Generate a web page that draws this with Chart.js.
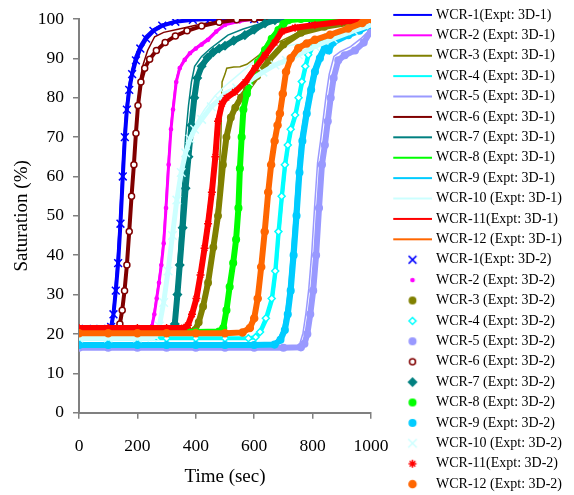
<!DOCTYPE html>
<html>
<head>
<meta charset="utf-8">
<script src="https://cdn.jsdelivr.net/npm/chart.js@4/dist/chart.umd.min.js"></script>
<style>
  html, body { margin: 0; padding: 0; background: #fff; }
  #wrap { width: 574px; height: 495px; }
</style>
</head>
<body>
<div id="wrap"><canvas id="satChart" width="574" height="495"></canvas></div>
<script>
// ---- data (time in sec, saturation in %) ----
const wcr1Expt1Time = [0, 50, 100, 108, 116, 124, 132, 140, 148, 155, 162, 170, 180, 192, 207, 227, 252, 282, 325, 385, 440, 600, 800, 1000];
const wcr1Expt1Sat  = [21.2, 21.2, 21.2, 22, 25.5, 32, 40, 50, 62, 71, 78, 83, 87, 90.5, 93.2, 95.6, 97.4, 98.6, 99.4, 99.9, 100, 100, 100, 100];
const wcr2Expt1Time = [0, 100, 200, 238, 248, 256, 264, 272, 280, 288, 296, 305, 313, 320, 331, 343, 360, 378, 398, 418, 440, 468, 498, 548, 600, 800, 1000];
const wcr2Expt1Sat  = [21.1, 21.1, 21.1, 21.2, 22, 25, 29, 33, 37.5, 43, 52, 63, 72, 77, 84, 87.6, 89.8, 91.5, 92.7, 93.8, 95, 97, 98.6, 99.5, 100, 100, 100];
const wcr3Expt1Time = [0, 100, 200, 300, 390, 405, 420, 440, 460, 476, 486, 490, 500, 506, 530, 551, 575, 620, 680, 750, 850, 1000];
const wcr3Expt1Sat  = [20.3, 20.3, 20.3, 20.3, 20.4, 22, 27, 35, 44, 55, 70, 84, 86, 87.5, 87.8, 87.9, 88.5, 91, 94, 96.5, 98.5, 100];
const wcr4Expt1Time = [0, 100, 200, 300, 400, 500, 585, 610, 625, 645, 665, 677, 688, 699, 710, 720, 730, 745, 757, 768, 780, 790, 812, 845, 885, 935, 1000];
const wcr4Expt1Sat  = [18.7, 18.7, 18.7, 18.7, 18.7, 18.7, 18.7, 19, 20.3, 23.5, 28.5, 35.5, 45.5, 54.5, 62.5, 67.5, 71.5, 75.2, 79.5, 83.6, 87.6, 90.5, 93.9, 95, 96, 96.8, 97.8];
const wcr5Expt1Time = [0, 100, 200, 300, 400, 500, 600, 700, 745, 757, 767, 777, 787, 797, 807, 817, 827, 837, 847, 857, 873, 895, 930, 965, 1000];
const wcr5Expt1Sat  = [16.7, 16.7, 16.7, 16.7, 16.7, 16.7, 16.7, 16.7, 16.8, 17.7, 20.2, 25.2, 31.5, 40.5, 52.5, 63.5, 69, 75, 81, 86, 90.5, 91.7, 93, 95, 97.5];
const wcr6Expt1Time = [0, 50, 100, 130, 140, 148, 156, 164, 172, 180, 188, 195, 202, 210, 220, 235, 259, 290, 339, 400, 460, 520, 600, 800, 1000];
const wcr6Expt1Sat  = [21.2, 21.2, 21.2, 21.3, 22.5, 26, 31, 38, 47, 56, 64, 72, 79, 85, 88.5, 92, 95.5, 96.6, 97.4, 98.4, 99.3, 99.9, 100, 100, 100];
const wcr7Expt1Time = [0, 100, 200, 300, 315, 325, 335, 345, 355, 365, 375, 385, 396, 420, 450, 480, 510, 560, 620, 680, 800, 1000];
const wcr7Expt1Sat  = [20.7, 20.7, 20.7, 20.8, 21, 24, 33, 45, 58, 70, 78, 84, 88, 90.5, 92.5, 94.2, 95.9, 97.4, 98.8, 100, 100, 100];
const wcr8Expt1Time = [0, 100, 200, 300, 400, 476, 490, 501, 512, 524, 534, 542, 547, 553, 559, 571, 587, 609, 633, 656, 679, 696, 713, 755, 1000];
const wcr8Expt1Sat  = [20.4, 20.4, 20.4, 20.4, 20.4, 20.5, 21.5, 26, 32, 38, 44, 52, 62, 70, 77, 81.5, 85.8, 89.5, 92.6, 95.4, 97.5, 98.9, 99.8, 100, 100];
const wcr9Expt1Time = [0, 100, 200, 300, 400, 500, 600, 662, 682, 697, 707, 717, 727, 737, 747, 757, 772, 787, 800, 817, 834, 850, 865, 918, 958, 1000];
const wcr9Expt1Sat  = [17.4, 17.4, 17.4, 17.4, 17.4, 17.4, 17.4, 17.5, 18.7, 21.2, 25.3, 31.5, 40.5, 50.5, 61.5, 69.5, 76.5, 82.5, 87, 90.5, 93, 93.3, 94.5, 96.3, 97.3, 98.7];
const wcr10Expt1Time = [0, 100, 200, 250, 262, 275, 290, 305, 320, 335, 350, 365, 380, 400, 430, 466, 500, 540, 580, 637, 700, 760, 808, 850, 900, 950, 1000];
const wcr10Expt1Sat  = [18.8, 18.8, 18.8, 18.9, 19.2, 22.5, 29, 37, 46, 55, 62, 67, 70.5, 73.5, 77, 80.5, 83, 85.5, 88, 91.7, 93, 93.8, 94.5, 93.5, 95.5, 97.5, 99];
const wcr11Expt1Time = [0, 100, 200, 300, 355, 368, 382, 397, 411, 425, 437, 450, 462, 471, 485, 500, 530, 566, 600, 634, 667, 691, 738, 806, 898, 1000];
const wcr11Expt1Sat  = [21.4, 21.4, 21.4, 21.4, 21.5, 22.2, 25, 29, 35, 42, 48.5, 56.5, 65.5, 74.5, 79, 80.5, 82, 84.5, 88, 91.2, 94.3, 97, 98, 98.7, 99.4, 100];
const wcr12Expt1Time = [0, 100, 200, 300, 400, 500, 556, 581, 596, 608, 620, 632, 644, 654, 666, 676, 684, 694, 705, 721, 747, 776, 804, 856, 918, 966, 1000];
const wcr12Expt1Sat  = [20.1, 20.1, 20.1, 20.1, 20.1, 20.1, 20.3, 21.5, 24, 29, 37, 46, 56, 63, 69, 73, 76.5, 81.5, 87, 90.4, 93, 94.2, 95, 96.3, 97.8, 99.1, 100];

const wcr1Expt2Time = [0, 50, 100, 110, 118, 126, 134, 142, 150, 157, 164, 172, 182, 195, 210, 230, 255, 285, 330, 390, 450, 600, 800, 1000];
const wcr1Expt2Sat  = [21.3, 21.3, 21.3, 21.8, 25, 31, 38, 48, 60, 70, 77, 82, 86, 89.5, 92.5, 95, 97, 98.3, 99.3, 99.8, 100, 100, 100, 100];
const wcr2Expt2Time = [0, 100, 200, 240, 250, 258, 266, 274, 282, 290, 298, 307, 315, 322, 333, 345, 362, 380, 400, 420, 442, 470, 500, 550, 600, 800, 1000];
const wcr2Expt2Sat  = [21.2, 21.2, 21.2, 21.3, 22, 25, 29, 33, 37.5, 43, 52, 63, 72, 77, 84, 87.5, 89.6, 91.3, 92.5, 93.5, 94.7, 96.8, 98.5, 99.4, 100, 100, 100];
const wcr3Expt2Time = [0, 100, 200, 300, 380, 398, 410, 425, 442, 460, 476, 493, 505, 520, 535, 555, 575, 610, 650, 700, 760, 840, 920, 1000];
const wcr3Expt2Sat  = [20.5, 20.5, 20.5, 20.5, 20.6, 21, 23, 27, 33, 42, 50, 63, 70, 75, 77.5, 80, 82, 85.5, 89.5, 93.5, 96.5, 98, 99, 99.7];
const wcr4Expt2Time = [0, 100, 200, 300, 400, 500, 580, 605, 620, 640, 660, 672, 683, 694, 705, 715, 725, 740, 752, 763, 775, 785, 808, 840, 880, 930, 1000];
const wcr4Expt2Sat  = [18.9, 18.9, 18.9, 18.9, 18.9, 18.9, 18.9, 19.2, 20.5, 24, 29, 36, 46, 55, 63, 68, 72, 75.6, 80, 84.1, 88, 90.9, 94.2, 95.2, 96.2, 97, 98];
const wcr5Expt2Time = [0, 100, 200, 300, 400, 500, 600, 700, 760, 772, 782, 792, 802, 812, 822, 832, 842, 852, 862, 872, 888, 910, 945, 975, 1000];
const wcr5Expt2Sat  = [16.5, 16.5, 16.5, 16.5, 16.5, 16.5, 16.5, 16.5, 16.6, 17.5, 20, 25, 31, 40, 52, 63, 68, 74, 80, 85, 89.5, 90.8, 92, 94, 97];
const wcr6Expt2Time = [0, 50, 100, 130, 140, 148, 156, 164, 172, 180, 188, 195, 202, 212, 225, 242, 265, 295, 330, 370, 420, 480, 540, 600, 800, 1000];
const wcr6Expt2Sat  = [21.3, 21.3, 21.3, 21.4, 22.5, 26, 31, 37.5, 46, 55, 63, 71, 78, 84, 87.5, 89.8, 92, 94, 95.7, 97, 98.2, 99.2, 99.8, 100, 100, 100];
const wcr7Expt2Time = [0, 100, 200, 300, 318, 328, 337, 345, 355, 365, 375, 385, 395, 405, 420, 440, 460, 480, 500, 530, 568, 600, 637, 671, 700, 800, 1000];
const wcr7Expt2Sat  = [20.8, 20.8, 20.8, 20.9, 21, 22.5, 30, 37.5, 47, 57, 65, 73, 80, 85, 88, 90.2, 91.6, 92.5, 93.2, 94.5, 95.9, 97.3, 98.9, 99.7, 100, 100, 100];
const wcr8Expt2Time = [0, 100, 200, 300, 400, 480, 494, 505, 516, 528, 538, 546, 551, 557, 563, 575, 591, 613, 637, 660, 683, 700, 717, 760, 1000];
const wcr8Expt2Sat  = [20.5, 20.5, 20.5, 20.5, 20.5, 20.6, 21.5, 26, 32, 38, 44, 52, 62, 70, 77, 81, 85.3, 89, 92.1, 95, 97.2, 98.7, 99.7, 100, 100];
const wcr9Expt2Time = [0, 100, 200, 300, 400, 500, 600, 670, 690, 705, 715, 725, 735, 745, 755, 765, 780, 795, 808, 825, 842, 855, 870, 922, 960, 1000];
const wcr9Expt2Sat  = [17.2, 17.2, 17.2, 17.2, 17.2, 17.2, 17.2, 17.3, 18.5, 21, 25, 31, 40, 50, 61, 69, 76, 82, 86.6, 90, 92.6, 92, 94, 95.9, 97, 98.5];
const wcr10Expt2Time = [0, 100, 200, 250, 262, 275, 290, 305, 320, 335, 350, 365, 380, 396, 420, 453, 480, 499, 540, 580, 630, 671, 710, 751, 808, 870, 940, 1000];
const wcr10Expt2Sat  = [19, 19, 19, 19.1, 19.3, 22, 28, 36, 45, 54, 61, 66, 69.5, 72, 74.5, 77.7, 79.5, 81, 82.5, 84.1, 86.5, 88.3, 89.5, 90.9, 93, 95, 97, 98.5];
const wcr11Expt2Time = [0, 100, 200, 300, 360, 373, 387, 402, 416, 430, 442, 455, 467, 476, 490, 505, 534, 570, 603, 637, 670, 694, 740, 808, 900, 1000];
const wcr11Expt2Sat  = [21.5, 21.5, 21.5, 21.5, 21.6, 22.2, 25, 29, 35, 41.8, 48, 56, 65, 74, 78.5, 80, 81.5, 84, 87.5, 90.8, 94, 96.8, 97.8, 98.5, 99.3, 100];
const wcr12Expt2Time = [0, 100, 200, 300, 400, 500, 560, 585, 600, 612, 624, 636, 648, 658, 670, 680, 688, 698, 709, 725, 751, 780, 808, 860, 922, 970, 1000];
const wcr12Expt2Sat  = [20.2, 20.2, 20.2, 20.2, 20.2, 20.2, 20.4, 21.5, 24, 29, 37, 46, 56, 63, 69, 73, 76, 81, 86.6, 90, 92.6, 93.8, 94.7, 96, 97.6, 99, 100];

const expt1Names = ["WCR-1(Expt: 3D-1)", "WCR-2 (Expt: 3D-1)", "WCR-3 (Expt: 3D-1)", "WCR-4 (Expt: 3D-1)",
    "WCR-5 (Expt: 3D-1)", "WCR-6 (Expt: 3D-1)", "WCR-7 (Expt: 3D-1)", "WCR-8 (Expt: 3D-1)",
    "WCR-9 (Expt: 3D-1)", "WCR-10 (Expt: 3D-1)", "WCR-11(Expt: 3D-1)", "WCR-12 (Expt: 3D-1)"];
const expt2Names = ["WCR-1(Expt: 3D-2)", "WCR-2 (Expt: 3D-2)", "WCR-3 (Expt: 3D-2)", "WCR-4 (Expt: 3D-2)",
    "WCR-5 (Expt: 3D-2)", "WCR-6 (Expt: 3D-2)", "WCR-7 (Expt: 3D-2)", "WCR-8 (Expt: 3D-2)",
    "WCR-9 (Expt: 3D-2)", "WCR-10 (Expt: 3D-2)", "WCR-11(Expt: 3D-2)", "WCR-12 (Expt: 3D-2)"];
const xTicks = [0, 200, 400, 600, 800, 1000];
const yTicks = [0, 10, 20, 30, 40, 50, 60, 70, 80, 90, 100];

const expt1Times = [wcr1Expt1Time, wcr2Expt1Time, wcr3Expt1Time, wcr4Expt1Time, wcr5Expt1Time, wcr6Expt1Time,
    wcr7Expt1Time, wcr8Expt1Time, wcr9Expt1Time, wcr10Expt1Time, wcr11Expt1Time, wcr12Expt1Time];
const expt1Sats = [wcr1Expt1Sat, wcr2Expt1Sat, wcr3Expt1Sat, wcr4Expt1Sat, wcr5Expt1Sat, wcr6Expt1Sat,
    wcr7Expt1Sat, wcr8Expt1Sat, wcr9Expt1Sat, wcr10Expt1Sat, wcr11Expt1Sat, wcr12Expt1Sat];
const expt2Times = [wcr1Expt2Time, wcr2Expt2Time, wcr3Expt2Time, wcr4Expt2Time, wcr5Expt2Time, wcr6Expt2Time,
    wcr7Expt2Time, wcr8Expt2Time, wcr9Expt2Time, wcr10Expt2Time, wcr11Expt2Time, wcr12Expt2Time];
const expt2Sats = [wcr1Expt2Sat, wcr2Expt2Sat, wcr3Expt2Sat, wcr4Expt2Sat, wcr5Expt2Sat, wcr6Expt2Sat,
    wcr7Expt2Sat, wcr8Expt2Sat, wcr9Expt2Sat, wcr10Expt2Sat, wcr11Expt2Sat, wcr12Expt2Sat];

// ---- styles ----
const seriesColors = ["#0000FF", "#FF00FF", "#808000", "#00FFFF", "#9999FF", "#800000",
    "#008080", "#00FF00", "#00CCFF", "#CCFFFF", "#FF0000", "#FF6600"];
// marker for the 3D-2 series: shape, radius, hollow or not, width of the band under it
const markerShapes = ["crossRot", "circle", "circle", "rectRot", "circle", "circle",
    "rectRot", "circle", "circle", "crossRot", "star", "circle"];
const markerRadius = [5.5, 1.6, 3.2, 3.5, 3.3, 3, 4, 3.3, 3.3, 6, 4, 3.5];
const markerHollow = [false, false, false, true, false, true, false, false, false, false, false, false];
const bandWidth = [4, 3, 6, 4, 6, 4, 6, 6, 6, 5, 6, 6];
const SERIF = "'Liberation Serif', 'Times New Roman', serif";

function toPoints(times, sats) {
    return times.map((t, k) => ({ x: t, y: sats[k] }));
}

/** legend swatches: line sample or marker, offset so the text sits where it should */
function legendSwatch(i, isLine) {
    const c = document.createElement("canvas");
    c.width = 58; c.height = 14;
    const g = c.getContext("2d");
    const color = seriesColors[i];
    if (isLine) {
        g.strokeStyle = color;
        g.lineWidth = 2;
        g.beginPath(); g.moveTo(19, 7); g.lineTo(58, 7); g.stroke();
    } else {
        g.fillStyle = markerHollow[i] ? "#FFFFFF" : color;
        g.strokeStyle = color;
        g.lineWidth = 1.5;
        const opts = { pointStyle: markerShapes[i], radius: markerRadius[i], borderWidth: 1.5, rotation: 0 };
        if (Chart.helpers && Chart.helpers.drawPoint) {
            Chart.helpers.drawPoint(g, opts, 38.3, 7);
        } else {
            g.beginPath(); g.arc(38.3, 7, markerRadius[i], 0, Math.PI * 2); g.fill(); g.stroke();
        }
    }
    return c;
}

const datasets = [];
const swatches = [];
expt1Names.forEach((name, i) => {
    datasets.push({
        label: name,
        data: toPoints(expt1Times[i], expt1Sats[i]),
        showLine: true,
        borderColor: seriesColors[i],
        backgroundColor: seriesColors[i],
        borderWidth: 1.5,
        pointRadius: 0,
        order: -i
    });
    swatches.push(legendSwatch(i, true));
});
expt2Names.forEach((name, i) => {
    datasets.push({
        label: name,
        data: toPoints(expt2Times[i], expt2Sats[i]),
        showLine: true,
        borderColor: seriesColors[i],
        borderWidth: bandWidth[i],
        pointStyle: markerShapes[i],
        pointRadius: markerRadius[i],
        pointBackgroundColor: markerHollow[i] ? "#FFFFFF" : seriesColors[i],
        pointBorderColor: seriesColors[i],
        pointBorderWidth: 1.5,
        order: -(12 + i)
    });
    swatches.push(legendSwatch(i, false));
});

new Chart(document.getElementById("satChart").getContext("2d"), {
    type: "scatter",
    data: { datasets: datasets },
    options: {
        responsive: false,
        animation: false,
        // negative side padding only widens the room the legend may use
        layout: { padding: { top: -1, bottom: -5, left: 0, right: -320 } },
        plugins: {
            tooltip: { enabled: false },
            legend: {
                position: "right",
                align: "center",
                labels: {
                    usePointStyle: true,
                    pointStyleWidth: 51.6,
                    padding: 6.4,
                    color: "#000",
                    font: { family: SERIF, size: 14 },
                    generateLabels: chart => chart.data.datasets.map((ds, i) => ({
                        text: ds.label,
                        fillStyle: "rgba(0,0,0,0)",
                        strokeStyle: "rgba(0,0,0,0)",
                        lineWidth: 0,
                        pointStyle: swatches[i],
                        hidden: false,
                        datasetIndex: i,
                        fontColor: "#000"
                    }))
                }
            }
        },
        scales: {
            x: {
                type: "linear",
                min: xTicks[0],
                max: xTicks[xTicks.length - 1],
                afterBuildTicks: s => { s.ticks = xTicks.map(v => ({ value: v })); },
                border: { color: "#808080", width: 2 },
                grid: { drawOnChartArea: false, drawTicks: true, tickLength: 6, color: "#808080", lineWidth: 1.5 },
                ticks: { color: "#000", padding: 17, maxRotation: 0, callback: v => String(v),
                         font: { family: SERIF, size: 17.5 } },
                title: { display: true, text: "Time (sec)", color: "#000", padding: { top: 0, bottom: 11.6 },
                         font: { family: SERIF, size: 19 } },
                afterFit: s => { s.height = 87.3; s.paddingRight = 203; s.paddingLeft = 0; }
            },
            y: {
                type: "linear",
                min: yTicks[0],
                max: yTicks[yTicks.length - 1],
                afterBuildTicks: s => { s.ticks = yTicks.map(v => ({ value: v })); },
                border: { color: "#808080", width: 2 },
                grid: { drawOnChartArea: false, drawTicks: true, tickLength: 6, color: "#808080", lineWidth: 1.5 },
                ticks: { color: "#000", padding: 9, callback: v => String(v), font: { family: SERIF, size: 17.5 } },
                title: { display: true, text: "Saturation (%)", color: "#000", padding: { top: 11.1, bottom: 0 },
                         font: { family: SERIF, size: 19 } },
                afterFit: s => { s.width = 79; s.paddingTop = 19; s.paddingBottom = 0; }
            }
        }
    }
});
</script>
</body>
</html>
